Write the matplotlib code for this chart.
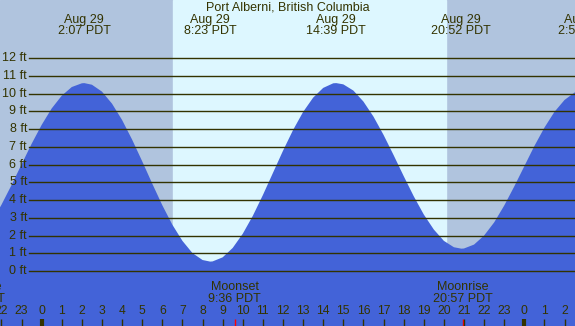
import numpy as np
import matplotlib
matplotlib.use("Agg")
import matplotlib.pyplot as plt
import matplotlib.transforms as mtransforms

plt.rcParams['font.family'] = ['Liberation Sans', 'DejaVu Sans']

# tide height (ft), hours after midnight Aug 29
hours = [-2.5, -2.0, -1.5, -1.0, -0.5, 0.0, 0.5, 1.0, 1.5, 2.0, 2.12, 2.5, 3.0, 3.5, 4.0, 4.5,
         5.0, 5.5, 6.0, 6.5, 7.0, 7.5, 8.0, 8.38, 8.5, 9.0, 9.5, 10.0, 10.5, 11.0, 11.5, 12.0,
         12.5, 13.0, 13.5, 14.0, 14.5, 14.65, 15.0, 15.5, 16.0, 16.5, 17.0, 17.5, 18.0, 18.5,
         19.0, 19.5, 20.0, 20.5, 20.87, 21.0, 21.5, 22.0, 22.5, 23.0, 23.5, 24.0, 24.5, 25.0,
         25.5, 26.0, 26.5, 27.0]
heights = [2.75, 3.73, 4.84, 6.01, 7.17, 8.24, 9.17, 9.89, 10.38, 10.59, 10.6, 10.51, 10.12, 9.44,
           8.52, 7.41, 6.19, 4.93, 3.71, 2.61, 1.70, 1.01, 0.62, 0.53, 0.54, 0.77, 1.30, 2.10,
           3.11, 4.28, 5.53, 6.78, 7.95, 8.97, 9.78, 10.33, 10.59, 10.6, 10.53, 10.18, 9.56,
           8.71, 7.68, 6.54, 5.36, 4.22, 3.19, 2.34, 1.70, 1.34, 1.26, 1.27, 1.49, 2.00, 2.74,
           3.69, 4.77, 5.91, 7.05, 8.09, 8.98, 9.65, 10.07, 10.20]

tide_hours = [2.12, 8.38, 14.65, 20.87, 26.97]
tide_dates = ["Aug 29", "Aug 29", "Aug 29", "Aug 29", "Aug 30"]
tide_times = ["2:07 PDT", "8:23 PDT", "14:39 PDT", "20:52 PDT", "2:58 PDT"]

moon_hours = [-3.3, 9.6, 20.95]
moon_names = ["Moonrise", "Moonset", "Moonrise"]
moon_times = ["20:42 PDT", "9:36 PDT", "20:57 PDT"]

sunrise, sunset = 6.53, 20.1
ft_ticks = list(range(0, 13))
hour_ticks = list(range(-2, 27))

W, H = 575, 326
night = '#b0c4de'
day = '#ddf7ff'
water = '#4363d8'
ink = '#333300'

fig = plt.figure(figsize=(W / 100, H / 100), dpi=100)
ax = fig.add_axes([0, 0, 1, 1])
x0, x1 = -2.07, 26.52
ppf = 212.7 / 12  # pixels per foot
y0 = -55 / ppf
y1 = 12 + 58.3 / ppf
ax.set_xlim(x0, x1)
ax.set_ylim(y0, y1)
ax.axis('off')

# day / night background
ax.axvspan(x0, x1, color=night, zorder=0)
ax.axvspan(sunrise, sunset, color=day, zorder=0)

ax.fill_between(hours, heights, y0, color=water, lw=0, zorder=1)

# height grid
for f in ft_ticks:
    ax.axhline(f, xmin=29.3 / W, xmax=1, color=ink, lw=1.0, zorder=2)
    ax.text(x0 + 27 / 20.11, f, "%d ft" % f, ha='right', va='center',
            fontsize=9, color=ink, zorder=3)

# texts by pixel row
trans = mtransforms.blended_transform_factory(ax.transData, ax.transAxes)

def row(py):
    return 1 - py / H

ax.text(0.5, row(7.5), "Port Alberni, British Columbia", transform=ax.transAxes,
        ha='center', va='center', fontsize=9, color=ink)

for h, d, t in zip(tide_hours, tide_dates, tide_times):
    ax.text(h, row(19.5), d, transform=trans, ha='center', va='center', fontsize=9, color=ink)
    ax.text(h, row(31.5), t, transform=trans, ha='center', va='center', fontsize=9, color=ink)

for h, n, t in zip(moon_hours, moon_names, moon_times):
    ax.text(h, row(287.5), n, transform=trans, ha='center', va='center', fontsize=9, color=ink)
    ax.text(h, row(299.5), t, transform=trans, ha='center', va='center', fontsize=9, color=ink)
    ax.plot([h, h], [row(318.5), 0], transform=trans, color='red', lw=1.0,
            solid_capstyle='butt', zorder=3)

# hour ticks
for h in hour_ticks:
    ax.text(h, row(311.5), str(h % 24), transform=trans, ha='center', va='center',
            fontsize=8.7, color=ink)
    lw = 3.0 if h % 24 == 0 else 1.0
    ax.plot([h, h], [row(318.5), 0], transform=trans, color=ink, lw=lw,
            solid_capstyle='butt', zorder=3)

fig.savefig("out.png", dpi=100)
